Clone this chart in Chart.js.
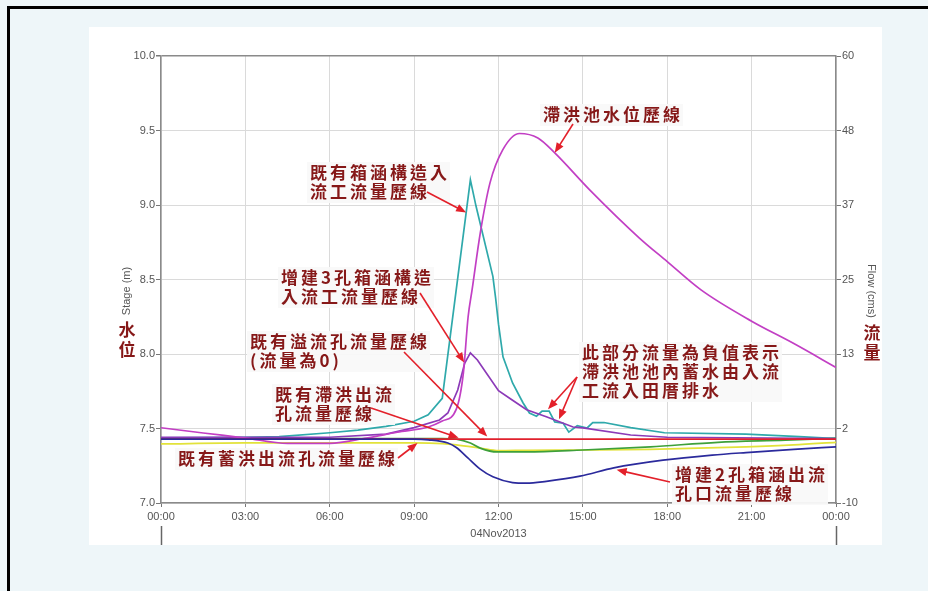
<!DOCTYPE html>
<html>
<head>
<meta charset="utf-8">
<script src="https://cdn.jsdelivr.net/npm/chart.js@4.4.0/dist/chart.umd.min.js"></script>
<style>
  html, body { margin: 0; padding: 0; background: #eef6f9; }
  canvas { display: block; }
</style>
</head>
<body>
<canvas id="chart" width="928" height="591"></canvas>
<script>
// ---- axis ticks -------------------------------------------------------
const hourTicks = [0, 3, 6, 9, 12, 15, 18, 21, 24];
const hourLabels = ['00:00', '03:00', '06:00', '09:00', '12:00', '15:00', '18:00', '21:00', '00:00'];
const stageTicks = [7.0, 7.5, 8.0, 8.5, 9.0, 9.5, 10.0];
const flowTickLabels = ['-10', '2', '13', '25', '37', '48', '60'];
const flowMin = -10, flowMax = 60;
const dateLabel = '04Nov2013';

// ---- series (time in hours of 04Nov2013) ------------------------------
// detention pond stage (m)
const stageHours = [0, 1.5, 3, 4.5, 6, 7.3, 8.4, 9.5, 10.0, 10.5, 10.75, 10.92, 11.06, 11.35, 11.7, 12.15, 12.75, 13.4, 14.0, 15.25, 17.0, 18.0, 19.2, 21.0, 22.5, 24];
const stageValues = [7.505, 7.47, 7.436, 7.40, 7.40, 7.436, 7.475, 7.51, 7.55, 7.63, 7.87, 8.25, 8.43, 8.81, 9.15, 9.37, 9.48, 9.45, 9.35, 9.10, 8.78, 8.62, 8.43, 8.22, 8.07, 7.91];

// existing box-culvert inlet flow (cms)
const inletOldHours = [0, 3, 4.2, 6, 7, 8, 9, 9.5, 10.0, 11.0, 11.2, 11.8, 11.9, 12.0, 12.16, 12.5, 12.87, 13.1, 13.35, 13.55, 13.8, 14.0, 14.3, 14.5, 14.8, 15.15, 15.35, 15.75, 16.7, 17.9, 20.8, 22.7, 24];
const inletOldValues = [0.2, 0.3, 0.4, 1.0, 1.4, 2.0, 2.8, 3.8, 6.4, 40.6, 36.5, 25.5, 22.0, 18.0, 12.9, 8.8, 5.7, 4.1, 3.6, 4.4, 4.4, 2.7, 2.5, 1.1, 2.1, 1.75, 2.6, 2.6, 1.8, 1.0, 0.8, 0.4, 0.1];

// new 3-cell box-culvert inlet flow (cms)
const inletNewHours = [0, 6, 8, 9, 9.9, 10.2, 10.55, 10.8, 11.0, 11.25, 12.0, 12.5, 13.0, 13.7, 14.65, 15.0, 16.7, 18.0, 24];
const inletNewValues = [0.3, 0.3, 0.8, 1.8, 3.0, 4.1, 7.7, 11.9, 13.5, 12.4, 7.6, 6.1, 4.6, 3.5, 1.9, 1.75, 0.65, 0.3, 0.1];

// existing overflow orifice flow (cms) - zero throughout
const overflowHours = [0, 24];
const overflowValues = [0, 0];

// new 2-cell box-culvert outlet flow (cms)
const outletNewHours = [0, 9, 9.5, 10.2, 10.5, 10.9, 11.35, 11.8, 12.5, 13.0, 13.7, 14.9, 16.1, 17.85, 19.6, 20.8, 22.5, 24];
const outletNewValues = [0.0, 0.0, -0.1, -0.6, -1.3, -2.9, -4.7, -5.9, -6.8, -6.9, -6.6, -5.8, -4.5, -3.3, -2.5, -2.1, -1.6, -1.2];

// existing detention outlet flow (cms)
const detentionOutHours = [0, 10, 10.5, 11, 11.35, 11.95, 13, 15, 17.4, 19.8, 22.2, 24];
const detentionOutValues = [0.1, 0.1, 0.0, -0.6, -1.4, -2.0, -2.0, -1.7, -1.2, -0.5, -0.16, 0.16];

// existing storage outlet flow (cms)
const storageOutHours = [0, 3, 9, 10, 10.5, 11.35, 12, 13, 15, 17.4, 20.8, 22.5, 24];
const storageOutValues = [-0.75, -0.6, -0.6, -0.7, -0.9, -1.4, -1.8, -1.75, -1.7, -1.6, -1.2, -0.9, -0.5];

function pts(hours, values) {
  return hours.map((h, i) => ({ x: h, y: values[i] }));
}

// ---- callout layout ---------------------------------------------------
const NOTE_COLOR = '#861818';
const ARROW_COLOR = '#e3202a';
const notes = [
  { lines: ['滯洪池水位歷線'], x: 543, y: 115,
    arrows: [{ from: [573, 124], axis: 'yStage', t: 14.0, v: 9.35 }] },
  { lines: ['既有箱涵構造入', '流工流量歷線'], x: 310, y: 173,
    arrows: [{ from: [427, 192], axis: 'yFlow', t: 10.85, v: 35.5 }] },
  { lines: ['增建3孔箱涵構造', '入流工流量歷線'], x: 281, y: 278,
    arrows: [{ from: [420, 293], axis: 'yFlow', t: 10.78, v: 12.0 }] },
  { lines: ['既有溢流孔流量歷線', '(流量為0)'], x: 250, y: 342,
    arrows: [{ from: [404, 352], axis: 'yFlow', t: 11.6, v: 0.4 }] },
  { lines: ['既有滯洪出流', '孔流量歷線'], x: 275, y: 395,
    arrows: [{ from: [371, 408], axis: 'yFlow', t: 10.58, v: 0.2 }] },
  { lines: ['既有蓄洪出流孔流量歷線'], x: 178, y: 459,
    arrows: [{ from: [398, 458], axis: 'yFlow', t: 9.12, v: -0.6 }] },
  { lines: ['此部分流量為負值表示', '滯洪池池內蓄水由入流', '工流入田厝排水'], x: 582, y: 353,
    arrows: [{ from: [577, 377], axis: 'yFlow', t: 13.76, v: 4.7 },
             { from: [577, 377], axis: 'yFlow', t: 14.15, v: 3.1 }] },
  { lines: ['增建2孔箱涵出流', '孔口流量歷線'], x: 675, y: 475,
    arrows: [{ from: [670, 482], axis: 'yFlow', t: 16.2, v: -4.8 }] }
];

function drawSpaced(ctx, text, x, y, sp) {
  let cx = x;
  for (const ch of text) {
    ctx.fillText(ch, cx, y);
    cx += ctx.measureText(ch).width + sp;
  }
  return cx - sp;
}
function spacedWidth(ctx, text, sp) {
  let w = 0;
  for (const ch of text) w += ctx.measureText(ch).width + sp;
  return w - sp;
}
function drawArrow(ctx, x1, y1, x2, y2) {
  const a = Math.atan2(y2 - y1, x2 - x1);
  const L = 10, W = 4;
  const ca = Math.cos(a), sa = Math.sin(a);
  ctx.beginPath();
  ctx.moveTo(x1, y1);
  ctx.lineTo(x2 - L * 0.7 * ca, y2 - L * 0.7 * sa);
  ctx.stroke();
  ctx.beginPath();
  ctx.moveTo(x2, y2);
  ctx.lineTo(x2 - L * ca + W * sa, y2 - L * sa - W * ca);
  ctx.lineTo(x2 - L * ca - W * sa, y2 - L * sa + W * ca);
  ctx.closePath();
  ctx.fill();
}

const TICK_FONT = { family: '"Liberation Sans", Arial, sans-serif', size: 11 };
const TICK_COLOR = '#555';
const GRID_COLOR = '#dadada';
const AXIS_COLOR = '#8a8a8a';

const framePlugin = {
  id: 'frame',
  beforeDraw(chart) {
    const ctx = chart.ctx;
    ctx.save();
    ctx.fillStyle = '#eef6f9';
    ctx.fillRect(0, 0, chart.width, chart.height);
    ctx.fillStyle = '#ffffff';
    ctx.fillRect(89, 27, 793, 518);
    ctx.fillStyle = '#000000';
    ctx.fillRect(7, 6, chart.width - 7, 3);
    ctx.fillRect(7, 6, 3, chart.height - 6);
    ctx.restore();
  },
  afterDatasetsDraw(chart) {
    const ctx = chart.ctx;
    const xs = chart.scales.x;
    ctx.save();
    ctx.font = 'bold 17px "Noto Sans CJK TC", sans-serif';
    ctx.textBaseline = 'middle';
    ctx.textAlign = 'left';
    const sp = 3, lh = 19;
    notes.forEach(n => {
      // soft backing box behind the callout text
      let w = 0;
      n.lines.forEach(l => { w = Math.max(w, spacedWidth(ctx, l, sp)); });
      ctx.fillStyle = 'rgba(249,249,249,0.95)';
      ctx.fillRect(n.x - 3, n.y - 11, w + 6, lh * (n.lines.length - 1) + 22);
    });
    notes.forEach(n => {
      ctx.fillStyle = NOTE_COLOR;
      n.lines.forEach((l, i) => drawSpaced(ctx, l, n.x, n.y + i * lh, sp));
    });
    ctx.strokeStyle = ARROW_COLOR;
    ctx.fillStyle = ARROW_COLOR;
    ctx.lineWidth = 1.6;
    notes.forEach(n => n.arrows.forEach(a => {
      const ys = chart.scales[a.axis];
      drawArrow(ctx, a.from[0], a.from[1], xs.getPixelForValue(a.t), ys.getPixelForValue(a.v));
    }));
    ctx.restore();
  },
  afterDraw(chart) {
    const ctx = chart.ctx;
    const xs = chart.scales.x;
    const area = chart.chartArea;
    ctx.save();
    // day separators under the time axis
    ctx.strokeStyle = '#666';
    ctx.lineWidth = 1.5;
    [0, 24].forEach(h => {
      const px = Math.round(xs.getPixelForValue(h)) + 0.5;
      ctx.beginPath();
      ctx.moveTo(px, 526);
      ctx.lineTo(px, 545);
      ctx.stroke();
    });
    // date label
    ctx.fillStyle = TICK_COLOR;
    ctx.font = '11px "Liberation Sans", Arial, sans-serif';
    ctx.textAlign = 'center';
    ctx.textBaseline = 'middle';
    ctx.fillText(dateLabel, (area.left + area.right) / 2, 534);
    // axis titles
    ctx.save();
    ctx.translate(127, 291);
    ctx.rotate(-Math.PI / 2);
    ctx.fillText('Stage (m)', 0, 0);
    ctx.restore();
    ctx.save();
    ctx.translate(871, 291);
    ctx.rotate(Math.PI / 2);
    ctx.fillText('Flow (cms)', 0, 0);
    ctx.restore();
    ctx.fillStyle = NOTE_COLOR;
    ctx.font = 'bold 17px "Noto Sans CJK TC", sans-serif';
    ctx.fillText('水', 127, 330);
    ctx.fillText('位', 127, 350);
    ctx.fillText('流', 872, 333);
    ctx.fillText('量', 872, 353);
    ctx.restore();
  }
};

function line(label, data, color, axis, mode) {
  return {
    label, data, borderColor: color, backgroundColor: color,
    borderWidth: 1.7, pointRadius: 0, fill: false, yAxisID: axis,
    tension: 0, cubicInterpolationMode: mode || 'default'
  };
}

new Chart(document.getElementById('chart'), {
  type: 'line',
  data: {
    datasets: [
      line('增建2孔箱涵出流孔口流量', pts(outletNewHours, outletNewValues), '#2b2a9c', 'yFlow', 'monotone'),
      line('既有溢流孔流量', pts(overflowHours, overflowValues), '#e0202c', 'yFlow'),
      line('滯洪池水位', pts(stageHours, stageValues), '#c23fc4', 'yStage', 'monotone'),
      line('增建3孔箱涵構造入流工流量', pts(inletNewHours, inletNewValues), '#8c3ab8', 'yFlow'),
      line('既有箱涵構造入流工流量', pts(inletOldHours, inletOldValues), '#2fa9ab', 'yFlow'),
      line('既有滯洪出流孔流量', pts(detentionOutHours, detentionOutValues), '#3ea03a', 'yFlow', 'monotone'),
      line('既有蓄洪出流孔流量', pts(storageOutHours, storageOutValues), '#e2e23a', 'yFlow', 'monotone')
    ]
  },
  options: {
    responsive: false,
    animation: false,
    devicePixelRatio: 1,
    layout: { padding: { top: 56, left: 0, right: 0, bottom: 0 } },
    plugins: { legend: { display: false }, tooltip: { enabled: false }, title: { display: false } },
    scales: {
      x: {
        type: 'linear', min: 0, max: 24,
        afterBuildTicks: s => { s.ticks = hourTicks.map(v => ({ value: v })); },
        afterFit: s => { s.height = 88; },
        ticks: { callback: (v, i) => hourLabels[i], font: TICK_FONT, color: TICK_COLOR, padding: 3, maxRotation: 0, autoSkip: false },
        grid: { color: GRID_COLOR, lineWidth: 1, tickLength: 4, tickColor: '#777' },
        border: { color: AXIS_COLOR, width: 1.5 }
      },
      yStage: {
        type: 'linear', position: 'left', min: 7, max: 10,
        afterBuildTicks: s => { s.ticks = stageTicks.map(v => ({ value: v })); },
        afterFit: s => { s.width = 161; },
        ticks: { callback: v => v.toFixed(1), font: TICK_FONT, color: TICK_COLOR, padding: 1 },
        grid: {
          color: c => (c.tick && c.tick.value === 10 ? AXIS_COLOR : GRID_COLOR),
          lineWidth: c => (c.tick && c.tick.value === 10 ? 1.5 : 1),
          tickLength: 5, tickColor: '#777'
        },
        border: { color: AXIS_COLOR, width: 1.5 }
      },
      yFlow: {
        type: 'linear', position: 'right', min: flowMin, max: flowMax,
        afterBuildTicks: s => {
          s.ticks = flowTickLabels.map((_, i) => ({ value: flowMin + i * (flowMax - flowMin) / (flowTickLabels.length - 1) }));
        },
        afterFit: s => { s.width = 92; },
        ticks: { callback: (v, i) => flowTickLabels[i], font: TICK_FONT, color: TICK_COLOR, padding: 1 },
        grid: { drawOnChartArea: false, tickLength: 5, tickColor: '#777' },
        border: { color: AXIS_COLOR, width: 1.5 }
      }
    }
  },
  plugins: [framePlugin]
});
</script>
</body>
</html>
